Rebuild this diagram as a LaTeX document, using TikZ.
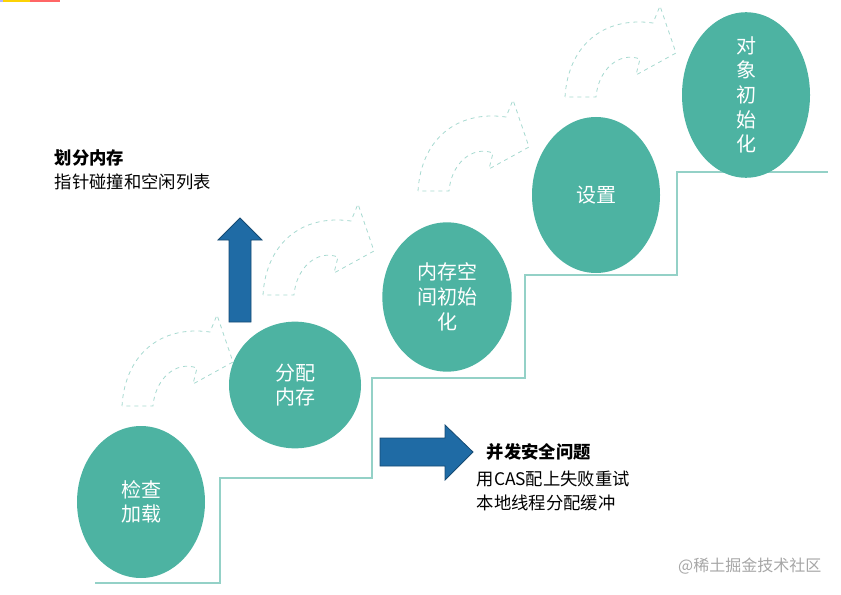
\documentclass[tikz,border=0pt]{standalone}
\usepackage{fontspec}
\usetikzlibrary{shapes.geometric}
\newfontfamily\cjk{Noto Sans CJK SC}
\definecolor{teal1}{HTML}{4DB3A2}
\definecolor{blue1}{HTML}{1F6BA5}
\begin{document}
\begin{tikzpicture}[x=0.75pt,y=-0.75pt,
  bub/.style={ellipse,fill=teal1,draw=none,text=white,font=\cjk\fontsize{15}{18.5}\selectfont,align=center,inner sep=0pt},
  lbl/.style={anchor=west,font=\cjk\fontsize{13}{16}\selectfont,align=left},
  darr/.style={draw=teal1!50,dashed,line width=0.6pt},
  barr/.style={fill=blue1,draw=blue1!70!black,line width=0.6pt}]
\useasboundingbox (0,0) rectangle (841,595);
\fill[blue!30] (0,0) rectangle (3,2);
\fill[yellow!70!orange] (3,0) rectangle (30,2);
\fill[red!60] (30,0) rectangle (60,2);
% stairs
\draw[teal1!60,line width=1pt] (95,583) -- (220,583) -- (220,478) -- (372,478) -- (372,378) -- (525,378) -- (525,275) -- (677,275) -- (677,172) -- (828,172);
% dashed arrows
\foreach \dx/\dy in {0/0,141/-111,296/-215,443/-309}{
\draw[darr,shift={(\dx,\dy)}] (122,406) .. controls (125,355) and (160,325) .. (210,332) -- (217,315) -- (233,362) -- (193,384) -- (197,368) .. controls (175,360) and (155,380) .. (153,406) -- cycle;
}
% bubbles
\node[bub,minimum width=96pt,minimum height=114pt] (b1) at (141,502) {检查\\加载};
\node[bub,minimum width=99pt,minimum height=95pt] (b2) at (295,385) {分配\\内存};
\node[bub,minimum width=97pt,minimum height=112pt] (b3) at (447,297) {内存空\\间初始\\化};
\node[bub,minimum width=96pt,minimum height=117pt] (b4) at (596,195) {设置};
\node[bub,minimum width=96pt,minimum height=110pt] (b5) at (746,95) {对\\象\\初\\始\\化};
% blue arrows
\draw[barr] (229,322) -- (229,240) -- (218,240) -- (240,218) -- (262,240) -- (251,240) -- (251,322) -- cycle;
\draw[barr] (380,438) -- (445,438) -- (445,425) -- (473,452) -- (445,480) -- (445,466) -- (380,466) -- cycle;
% labels
\node[lbl] (t1) at (50,158) {\textbf{划分内存}};
\node[lbl] (t2) at (50,182) {指针碰撞和空闲列表};
\node[lbl] (t3) at (482,452) {\textbf{并发安全问题}};
\node[lbl] (t4) at (472,479) {用CAS配上失败重试};
\node[lbl] (t5) at (472,503) {本地线程分配缓冲};
\node[anchor=east,text=gray!70,font=\cjk\fontsize{12}{14}\selectfont] (w) at (826,566) {@稀土掘金技术社区};
\end{tikzpicture}
\end{document}
